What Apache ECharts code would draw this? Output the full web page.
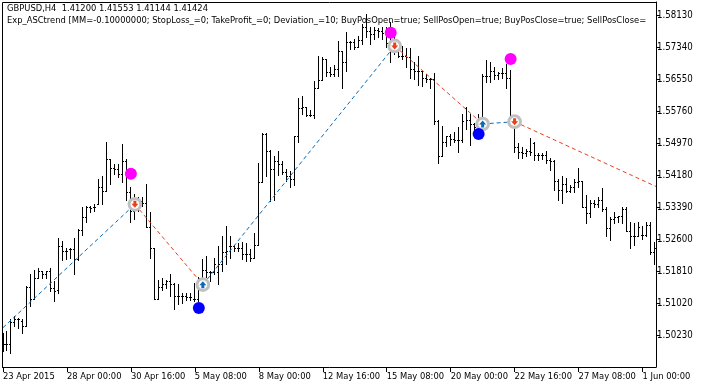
<!DOCTYPE html>
<html><head><meta charset="utf-8">
<style>html,body{margin:0;padding:0;background:#fff}#c{width:708px;height:387px}</style>
<script src="https://cdn.jsdelivr.net/npm/echarts@6/dist/echarts.min.js"></script>
</head><body><div id="c"></div>
<script>
const headerLine1 = 'GBPUSD,H4  1.41200 1.41553 1.41144 1.41424';
const headerLine2 = 'Exp_ASCtrend [MM=-0.10000000; StopLoss_=0; TakeProfit_=0; Deviation_=10; BuyPosOpen=true; SellPosOpen=true; BuyPosClose=true; SellPosClose=';
const yTicks = [1.58130,1.57340,1.56550,1.55760,1.54970,1.54180,1.53390,1.52600,1.51810,1.51020,1.50230];
const xTickBars = [0,16,32,48,64,80,96,112,128,144,160];
const xTickLabels = ['23 Apr 2015','28 Apr 00:00','30 Apr 16:00','5 May 08:00','8 May 00:00','12 May 16:00','15 May 08:00','20 May 00:00','22 May 16:00','27 May 08:00','1 Jun 00:00'];
const opens = [
1.50020,1.50020,1.50020,1.50539,1.50613,1.50564,1.50440,1.51427,1.51107,1.51625,
1.51798,1.51724,1.51798,1.51402,1.51329,1.52415,1.52292,1.52341,1.52341,1.52094,
1.52810,1.53131,1.53402,1.53402,1.53452,1.53896,1.53797,1.54563,1.54341,1.54316,
1.54217,1.54514,1.53748,1.53280,1.53476,1.53526,1.53501,1.52885,1.52366,1.51131,
1.51427,1.51477,1.51551,1.51501,1.51205,1.51205,1.51205,1.51180,1.51131,1.51131,
1.51625,1.51847,1.51773,1.51773,1.51773,1.51995,1.52267,1.52415,1.52415,1.52366,
1.52390,1.52242,1.52242,1.52143,1.52440,1.53995,1.55180,1.54761,1.54316,1.54514,
1.54440,1.54242,1.54143,1.54069,1.55131,1.55822,1.55871,1.55649,1.55649,1.56340,
1.56513,1.57032,1.56711,1.56662,1.56785,1.57229,1.56982,1.57452,1.57452,1.57328,
1.57501,1.57846,1.57723,1.57649,1.57772,1.57723,1.57674,1.57427,1.57353,1.57254,
1.57106,1.57106,1.57081,1.56785,1.56736,1.56736,1.56587,1.56538,1.56538,1.55501,
1.54637,1.55007,1.55131,1.55057,1.55032,1.55032,1.55846,1.55550,1.55427,1.55353,
1.55501,1.56612,1.56612,1.56736,1.56637,1.56686,1.56686,1.56587,1.55501,1.54859,
1.54736,1.54711,1.54761,1.54958,1.54662,1.54686,1.54686,1.54538,1.54514,1.54020,
1.53822,1.53946,1.53797,1.53896,1.53995,1.54020,1.53378,1.53230,1.53501,1.53476,
1.53551,1.53329,1.52860,1.53106,1.53131,1.53156,1.53329,1.52786,1.52662,1.52662,
1.52687,1.52711,1.52934,1.52267];
const highs = [
1.50267,1.50341,1.50613,1.50687,1.50638,1.50613,1.51452,1.51724,1.51847,1.51872,
1.51822,1.51822,1.51872,1.51551,1.52613,1.52539,1.52366,1.52390,1.52613,1.52835,
1.53378,1.53427,1.53427,1.53452,1.54069,1.54143,1.54983,1.54563,1.54440,1.54440,
1.54933,1.54563,1.53872,1.53699,1.53625,1.53625,1.53970,1.53255,1.52390,1.51600,
1.51625,1.51600,1.51748,1.51526,1.51477,1.51255,1.51255,1.51255,1.51526,1.51650,
1.52094,1.52168,1.51798,1.52143,1.52415,1.52662,1.52909,1.52662,1.52464,1.52489,
1.52514,1.52489,1.52341,1.52736,1.54464,1.55205,1.55205,1.54785,1.54637,1.54761,
1.54514,1.54316,1.54267,1.55155,1.56069,1.56118,1.55871,1.55797,1.56489,1.57106,
1.57081,1.57056,1.56834,1.56884,1.57477,1.57229,1.57698,1.57477,1.57526,1.57600,
1.57896,1.58143,1.57822,1.57822,1.57797,1.57822,1.57846,1.57945,1.57600,1.57452,
1.57353,1.57304,1.57304,1.56958,1.57106,1.56736,1.56662,1.56587,1.56686,1.55550,
1.55402,1.55155,1.55180,1.55230,1.55353,1.55674,1.55871,1.55674,1.55476,1.55674,
1.56662,1.57007,1.56958,1.56834,1.56711,1.56810,1.56908,1.56760,1.55600,1.54958,
1.54859,1.54810,1.55082,1.54983,1.54711,1.54711,1.54761,1.54588,1.54538,1.54069,
1.54143,1.54094,1.53921,1.54069,1.54365,1.54020,1.53674,1.53551,1.53575,1.53625,
1.53847,1.53378,1.53131,1.53255,1.53156,1.53402,1.53378,1.53008,1.52983,1.53008,
1.52909,1.53008,1.53008,1.52514];
const lows = [
1.49823,1.49848,1.49774,1.50440,1.50391,1.50267,1.50440,1.50934,1.51107,1.51625,
1.51625,1.51625,1.51304,1.51057,1.51255,1.52070,1.52094,1.52143,1.51724,1.52070,
1.52711,1.53032,1.53255,1.53280,1.53452,1.53452,1.53797,1.53946,1.54193,1.54119,
1.53995,1.53551,1.53008,1.53106,1.53280,1.53427,1.52885,1.52143,1.51107,1.51131,
1.51353,1.51378,1.51205,1.50884,1.50983,1.51008,1.51082,1.51082,1.51057,1.51057,
1.51427,1.51674,1.51551,1.51748,1.51477,1.51798,1.51995,1.52143,1.52292,1.52292,
1.52094,1.52045,1.52045,1.52119,1.52440,1.53995,1.54143,1.53526,1.53575,1.54168,
1.54193,1.54020,1.53896,1.53921,1.55007,1.55674,1.55625,1.55625,1.55575,1.56340,
1.56513,1.56612,1.56612,1.56612,1.56612,1.56340,1.56736,1.57279,1.57279,1.57328,
1.57402,1.57575,1.57402,1.57526,1.57575,1.57526,1.57328,1.56982,1.57155,1.57081,
1.57032,1.56834,1.56587,1.56538,1.56390,1.56365,1.56464,1.56340,1.55427,1.54464,
1.54637,1.54884,1.54909,1.54983,1.54736,1.55007,1.55304,1.54909,1.55205,1.55304,
1.55501,1.56464,1.56464,1.56538,1.56538,1.56563,1.56340,1.55501,1.54736,1.54612,
1.54588,1.54637,1.54686,1.54538,1.54538,1.54563,1.54464,1.54292,1.53822,1.53575,
1.53501,1.53748,1.53748,1.53748,1.53896,1.53378,1.52983,1.53131,1.53378,1.53402,
1.53280,1.52662,1.52563,1.52983,1.53008,1.52983,1.52786,1.52366,1.52464,1.52662,
1.52588,1.52662,1.52242,1.51971];
const closes = [
1.50020,1.50020,1.50539,1.50613,1.50613,1.50440,1.51427,1.51107,1.51625,1.51798,
1.51724,1.51798,1.51402,1.51304,1.52415,1.52292,1.52292,1.52341,1.52094,1.52810,
1.53131,1.53402,1.53353,1.53378,1.53896,1.53797,1.54563,1.54341,1.54316,1.54217,
1.54514,1.53748,1.53280,1.53476,1.53526,1.53501,1.52885,1.52366,1.51131,1.51427,
1.51477,1.51551,1.51501,1.51205,1.51205,1.51205,1.51180,1.51180,1.51131,1.51625,
1.51847,1.51773,1.51773,1.51971,1.51995,1.52267,1.52292,1.52415,1.52366,1.52390,
1.52242,1.52242,1.52143,1.52440,1.53995,1.55180,1.54761,1.54316,1.54514,1.54440,
1.54242,1.54143,1.54069,1.55131,1.55822,1.55871,1.55649,1.55649,1.56340,1.56513,
1.57032,1.56711,1.56662,1.56785,1.57229,1.56982,1.57452,1.57452,1.57328,1.57501,
1.57846,1.57723,1.57649,1.57772,1.57723,1.57674,1.57427,1.57353,1.57254,1.57106,
1.57106,1.57081,1.56785,1.56736,1.56736,1.56587,1.56538,1.56538,1.55501,1.54637,
1.55007,1.55131,1.55057,1.55032,1.55032,1.55501,1.55550,1.55427,1.55353,1.55501,
1.56612,1.56612,1.56736,1.56637,1.56686,1.56686,1.56587,1.55550,1.54859,1.54736,
1.54711,1.54761,1.54736,1.54662,1.54686,1.54686,1.54538,1.54514,1.54020,1.53822,
1.53946,1.53797,1.53896,1.53995,1.54020,1.53378,1.53230,1.53501,1.53476,1.53551,
1.53329,1.52860,1.53106,1.53131,1.53156,1.53329,1.52786,1.52662,1.52662,1.52885,
1.52687,1.52934,1.52267,1.52366];
const sellSignals = [[32,1.54225],[97,1.57706],[127,1.57056]];
const buySignals = [[49,1.50909],[119,1.55205]];
const sellDeals = [[33,1.53469],[98,1.57378],[128,1.55508]];
const buyDeals = [[50,1.51485],[120,1.55452]];
const blueLegs = [[[0,1.50423],[33,1.53469]],[[50,1.51485],[98,1.57378]],[[120,1.55452],[128,1.55508]]];
const redLegs = [[[33,1.53469],[50,1.51485]],[[98,1.57378],[120,1.55452]],[[128,1.55508],[163.375,1.53909]]];

const FONT = '"DejaVu Sans Condensed","DejaVu Sans"';
const FS = 9.3;
const ohlc = opens.map((o,i)=>[i,o,highs[i],lows[i],closes[i]]);
function renderBar(params, api){
  const x = Math.floor(api.coord([api.value(0),api.value(1)])[0]);
  const ro = Math.floor(api.coord([0,api.value(1)])[1]);
  const rh = Math.floor(api.coord([0,api.value(2)])[1]);
  const rl = Math.floor(api.coord([0,api.value(3)])[1]);
  const rc = Math.floor(api.coord([0,api.value(4)])[1]);
  const st = {fill:'#000'};
  return {type:'group',children:[
    {type:'rect',shape:{x:x,y:rh,width:1,height:rl-rh+1},style:st},
    {type:'rect',shape:{x:x-1,y:ro,width:1,height:1},style:st},
    {type:'rect',shape:{x:x+1,y:rc,width:1,height:1},style:st}
  ]};
}
const legSeries = (legs,color)=>legs.map(d=>({type:'line',data:d,showSymbol:false,silent:true,z:3,
  lineStyle:{color:color,width:1,type:[4,3]},animation:false}));
const DOWN='path://M2,0 L5,0 L5,3 L7,3 L3.5,7 L0,3 L2,3 Z';
const UP='path://M3.5,0 L7,4 L5,4 L5,7 L2,7 L2,4 L0,4 Z';
const ring = d=>({type:'scatter',data:d,symbol:'circle',symbolSize:11.7,z:4,animation:false,silent:true,
  itemStyle:{color:'#fff',borderColor:'#c0c0c0',borderWidth:3,opacity:1}});
const arrow = (d,sym,col)=>({type:'scatter',data:d,symbol:sym,symbolSize:[7,7],z:5,animation:false,silent:true,itemStyle:{color:col,opacity:1}});
const dot = (d,col)=>({type:'scatter',data:d,symbol:'circle',symbolSize:12,z:6,animation:false,silent:true,itemStyle:{color:col,opacity:1}});

const chart = echarts.init(document.getElementById('c'),null,{renderer:'canvas'});
chart.setOption({
  animation:false,
  backgroundColor:'#fff',
  title:[
    {text:headerLine1,left:7,top:2,padding:0,textStyle:{fontFamily:FONT,fontSize:FS,fontWeight:'normal',color:'#000',lineHeight:13}},
    {text:headerLine2,left:7,top:14,padding:0,textStyle:{fontFamily:FONT,fontSize:FS,fontWeight:'normal',color:'#000',lineHeight:13}}
  ],
  grid:{left:2,top:2,width:654,height:365,show:false},
  xAxis:{type:'value',min:-0.125,max:163.375,position:'bottom',
    splitLine:{show:false},
    axisLine:{show:true,onZero:false,lineStyle:{color:'#000',width:1}},
    axisTick:{show:true,length:5,inside:false,customValues:xTickBars,lineStyle:{color:'#000'}},
    axisLabel:{show:true,margin:5,align:'left',showMinLabel:true,showMaxLabel:true,hideOverlap:false,customValues:xTickBars,color:'#000',fontFamily:FONT,fontSize:FS,
      formatter:v=>xTickLabels[xTickBars.indexOf(v)]}},
  yAxis:{type:'value',min:1.494523,max:1.584633,position:'right',scale:true,
    splitLine:{show:false},
    axisLine:{show:true,onZero:false,lineStyle:{color:'#000',width:1}},
    axisTick:{show:true,length:4,customValues:yTicks,lineStyle:{color:'#000'}},
    axisLabel:{show:true,margin:1,customValues:yTicks,color:'#000',fontFamily:FONT,fontSize:9.6,
      formatter:v=>v.toFixed(5)}},
  series:[
    {type:'custom',renderItem:renderBar,data:ohlc,z:2,encode:{x:0,y:[1,2,3,4]},clip:true,silent:true,animation:false},
    ...legSeries(blueLegs,'#0a6ab5'),
    ...legSeries(redLegs,'#e8401c'),
    ring(sellDeals),ring(buyDeals),
    arrow(sellDeals,DOWN,'#e8401c'),arrow(buyDeals,UP,'#0a6ab5'),
    dot(sellSignals,'#ff00ff'),dot(buySignals,'#0000ff')
  ],
  graphic:[
    {type:'line',z:10,silent:true,shape:{x1:2.5,y1:2.5,x2:656.5,y2:2.5},style:{stroke:'#000',lineWidth:1}},
    {type:'line',z:10,silent:true,shape:{x1:2.5,y1:2.5,x2:2.5,y2:367.5},style:{stroke:'#000',lineWidth:1}}
  ]
});
</script></body></html>
